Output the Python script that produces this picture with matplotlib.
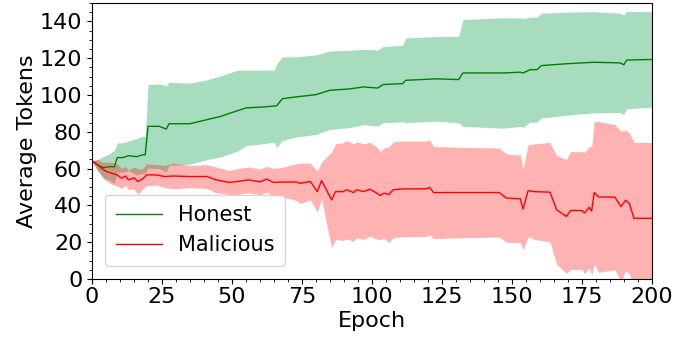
import matplotlib
matplotlib.use("Agg")
import matplotlib.pyplot as plt
import numpy as np
from matplotlib.ticker import MultipleLocator

# honest clients: epoch, mean tokens, std
honest_epoch = [0, 2, 4, 6, 8, 9, 11, 13, 16, 18, 19, 20, 24, 26.5, 27.5, 35, 41, 46, 49,
                52, 55, 61, 65, 66, 68, 73, 80, 85, 92, 97, 102, 104, 111, 112, 123, 131,
                132.5, 147, 153, 154, 156.5, 159, 160.5, 169.5, 179, 188.5, 190, 191, 199, 200]
honest_mean = [64, 62, 60.5, 61, 61, 66, 66, 67, 66.5, 67.5, 67.5, 83, 83, 81.5, 84.4, 84.4,
               86.6, 88.4, 90, 91.5, 93, 93.5, 94, 94.2, 98, 99, 100.2, 102.6, 103.3, 104.4,
               103.8, 105.7, 106.2, 108, 108.8, 108.4, 112, 112, 112.4, 112, 113.8, 113.8,
               116, 117, 117.8, 117.5, 116.5, 119, 119.3, 119.3]
honest_std = [0, 3, 6, 7, 9, 8, 8, 8, 10, 10, 10, 22.7, 23, 23.5, 22.6, 22, 21.7, 22, 22,
              22, 20.5, 20, 19.6, 22.7, 22.7, 21.8, 21.6, 21.3, 21, 20.5, 20.6, 20.7, 20.8,
              23, 23, 23.5, 29, 30, 29.5, 29.5, 28.5, 28.5, 28.5, 28, 27.5, 27, 27, 26.5,
              26, 26]

# malicious clients: epoch, mean tokens, std
mal_epoch = [0, 2, 3.3, 5, 7, 9, 10.5, 12, 13, 15, 16.4, 18, 19.5, 23, 26, 29, 35, 41, 44,
             49, 52, 56, 60, 62.4, 64.8, 68, 73, 74.3, 78, 80.5, 82, 83.2, 85.6, 87, 89.7,
             91, 93.4, 94.6, 97, 99.3, 101.7, 103, 104.3, 106, 107.6, 111, 119, 120.7, 122,
             134, 145.5, 148, 153, 154, 155.8, 158, 163.6, 166, 169.5, 171, 175, 176, 177.6,
             178.5, 179.4, 181, 186.8, 189, 190.6, 192, 193.6, 200]
mal_mean = [64.4, 62, 60.3, 58.5, 57.5, 56.6, 54.8, 56, 53.9, 55, 53, 54.3, 56.6, 56.6, 55.7,
            56, 55.7, 55.7, 54, 52.5, 53, 53.9, 52.8, 54.3, 52.5, 52.7, 52.7, 52, 53, 47.5,
            53.5, 50, 43, 47.5, 47.5, 48.5, 47, 48.5, 47.5, 48.8, 46.7, 45.4, 46.7, 45.9,
            48.5, 49, 49, 49.7, 47, 47, 47, 44, 43.6, 38, 48, 47.5, 47.2, 37.6, 34, 37.3,
            37.2, 35.9, 39, 37, 47, 44.6, 44.5, 39.3, 42.8, 41, 33, 33]
mal_std = [0, 3, 3.5, 5, 6, 6, 5.5, 5, 5.3, 6, 7, 5.5, 6, 5.5, 6, 7, 6, 6.5, 7, 6.5, 7, 7,
           7, 7, 7.5, 8, 10, 11, 10, 11, 10, 15.5, 26, 26, 26.5, 26.7, 26.5, 26, 26, 25.5,
           25, 24, 24.5, 26, 26, 26, 26, 25.8, 25, 24.5, 24.2, 24, 23.8, 22, 25, 26, 27, 29.5,
           31, 32, 32, 33, 33, 35, 38.7, 41, 39.4, 41, 38.2, 38.3, 41.2, 41.2]


def main():
    plt.rcParams["font.family"] = ["DejaVu Sans"]
    fig, ax = plt.subplots(figsize=(6.92, 3.37), dpi=100)
    fig.subplots_adjust(left=0.133, right=0.942, bottom=0.172, top=0.991)

    he, hm, hs = np.array(honest_epoch), np.array(honest_mean), np.array(honest_std)
    me, mm, ms = np.array(mal_epoch), np.array(mal_mean), np.array(mal_std)

    ax.fill_between(he, hm - hs, hm + hs, color="mediumseagreen", alpha=0.45, linewidth=0)
    ax.fill_between(me, mm - ms, mm + ms, color="red", alpha=0.3, linewidth=0)
    ax.plot(he, hm, color="green", linewidth=1, label="Honest")
    ax.plot(me, mm, color="red", linewidth=1, label="Malicious")

    ax.set_xlim(0, 200)
    ax.set_ylim(0, 150)
    ax.set_yticks(range(0, 141, 20))
    ax.xaxis.set_minor_locator(MultipleLocator(5))
    ax.yaxis.set_minor_locator(MultipleLocator(5))
    ax.tick_params(labelsize=16)
    ax.tick_params(axis="x", pad=2)
    ax.set_xlabel("Epoch", fontsize=16, labelpad=3)
    ax.set_ylabel("Average Tokens", fontsize=16, labelpad=2)
    ax.legend(loc="lower left", fontsize=15, handlelength=2.2, borderpad=0.5,
              bbox_to_anchor=(0.005, 0.01))

    fig.savefig("out.png", dpi=100)
    plt.close(fig)


if __name__ == "__main__":
    main()
